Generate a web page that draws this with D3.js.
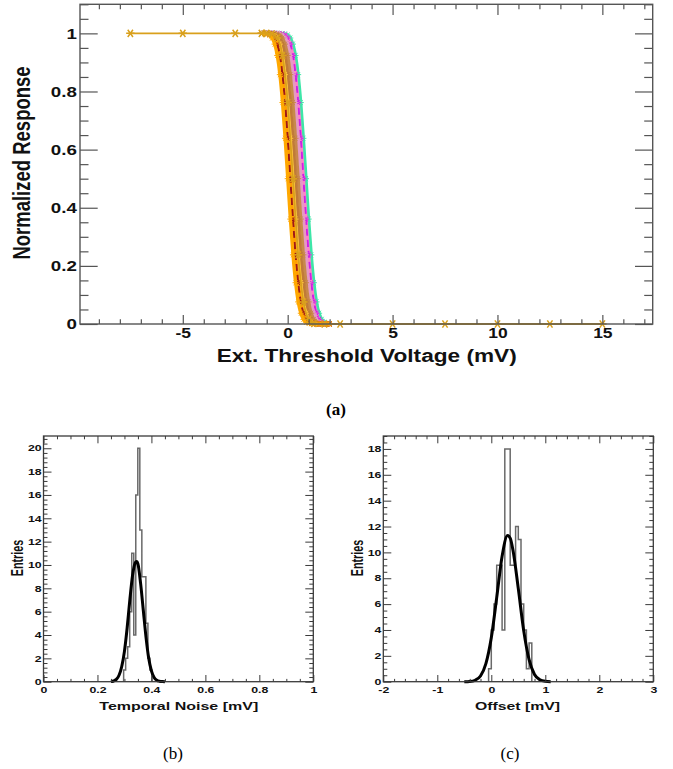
<!DOCTYPE html>
<html><head><meta charset="utf-8">
<script src="https://cdn.jsdelivr.net/npm/d3@7"></script>
<style>body{margin:0;background:#fff}svg{display:block}</style>
</head><body>
<svg id="chart" width="673" height="769"></svg>
<script>
// ---------------- DATA ----------------
// (a) S-curves: fine threshold scan (mV) and normalized responses of several pixels
const scanX = [-1.25,-1.125,-1,-0.875,-0.75,-0.625,-0.5,-0.375,-0.25,-0.125,0,0.125,0.25,0.375,0.5,0.625,0.75,0.875,1,1.125,1.25,1.375,1.5,1.625,1.75,1.875,2];
const respGreen   = [1,1,1,1,1,1,1,1,0.999,0.998,0.994,0.984,0.963,0.924,0.858,0.762,0.639,0.5,0.361,0.238,0.142,0.076,0.037,0.016,0.006,0.002,0.001];
const respPink    = [1,1,1,1,1,1,1,0.999,0.998,0.994,0.984,0.963,0.924,0.858,0.762,0.639,0.5,0.361,0.238,0.142,0.076,0.037,0.016,0.006,0.002,0.001,0];
const respMagenta = [1,1,1,1,1,1,1,0.999,0.998,0.994,0.984,0.963,0.924,0.858,0.762,0.639,0.5,0.361,0.238,0.142,0.076,0.037,0.016,0.006,0.002,0.001,0];
const respLilac   = [1,1,1,1,1,1,0.999,0.998,0.994,0.984,0.963,0.924,0.858,0.762,0.639,0.5,0.361,0.238,0.142,0.076,0.037,0.016,0.006,0.002,0.001,0,0];
const respTan     = [1,1,1,1,1,0.999,0.998,0.994,0.984,0.963,0.924,0.858,0.762,0.639,0.5,0.361,0.238,0.142,0.076,0.037,0.016,0.006,0.002,0.001,0,0,0];
const respBrown   = [1,1,1,1,0.999,0.998,0.994,0.984,0.963,0.924,0.858,0.762,0.639,0.5,0.361,0.238,0.142,0.076,0.037,0.016,0.006,0.002,0.001,0,0,0,0];
const respYellow  = [1,1,1,0.999,0.998,0.994,0.984,0.963,0.924,0.858,0.762,0.639,0.5,0.361,0.238,0.142,0.076,0.037,0.016,0.006,0.002,0.001,0,0,0,0,0];
const respOrange  = [1,1,0.999,0.998,0.994,0.984,0.963,0.924,0.858,0.762,0.639,0.5,0.361,0.238,0.142,0.076,0.037,0.016,0.006,0.002,0.001,0,0,0,0,0,0];
const respRed     = [1,1,0.999,0.998,0.994,0.984,0.963,0.924,0.858,0.762,0.639,0.5,0.361,0.238,0.142,0.076,0.037,0.016,0.006,0.002,0.001,0,0,0,0,0,0];
const respAmber   = [1,0.999,0.998,0.994,0.984,0.963,0.924,0.858,0.762,0.639,0.5,0.361,0.238,0.142,0.076,0.037,0.016,0.006,0.002,0.001,0,0,0,0,0,0,0];
const pixelResponses = [respGreen, respPink, respMagenta, respLilac, respTan, respBrown, respYellow, respOrange, respRed, respAmber];
const pixelColors = ["#3ee6a8","#ff80c8","#d21ee6","#e49ac4","#c8894a","#c07a38","#ffc83a","#ff9d00","#a01818","#ffa800"];
const pixelDashed = [false,false,true,false,false,false,false,false,true,false];
// coarse + fine scan of one pixel (gold)
const goldX = [-7.5,-5,-2.5,-1.25,-1,-0.75,-0.5,-0.25,0,0.25,0.5,0.75,1,1.25,1.75,2.5,5,7.5,10,12.5,15];
const goldY = [1,1,1,1,1,0.998,0.984,0.924,0.762,0.5,0.238,0.076,0.016,0.002,0,0,0,0,0,0,0];
const aXTicks = [-5,0,5,10,15];
const aYTicks = [0,0.2,0.4,0.6,0.8,1];

// (b) Temporal noise histogram + gaussian fit
const noiseBinLow = [0.297,0.3045,0.312,0.3195,0.327,0.3345,0.342,0.3495,0.357,0.3645,0.372,0.3795,0.387,0.3945];
const noiseCounts = [1,2,3,6,11,4,16,20,13,9,9,5,2,1];
const noiseBinWidth = 0.0075;
const noiseFitX = [0.25,0.26,0.27,0.28,0.29,0.30,0.31,0.32,0.33,0.34,0.345,0.35,0.36,0.37,0.38,0.39,0.40,0.41,0.42,0.43,0.44,0.45];
const noiseFitY = [0.01,0.06,0.2,0.55,1.3,2.6,4.6,7.0,9.1,10.2,10.3,10.1,8.4,6.1,3.8,2.0,0.93,0.37,0.13,0.04,0.01,0];
const bXTicks = [0,0.2,0.4,0.6,0.8,1];
const bYTicks = [0,2,4,6,8,10,12,14,16,18,20];

// (c) Offset histogram + gaussian fit
const offsetBinLow = [-0.05,0,0.05,0.1,0.15,0.2,0.25,0.3,0.35,0.4,0.45,0.5,0.55,0.6,0.65,0.7];
const offsetCounts = [1,4,6,9,9,4,18,18,9,9,12,11,6,4,1,3];
const offsetBinWidth = 0.05;
const offsetFitX = [-0.5,-0.4,-0.3,-0.2,-0.1,0,0.1,0.2,0.3,0.35,0.4,0.5,0.6,0.7,0.8,0.9,1.0,1.1];
const offsetFitY = [0,0.02,0.11,0.44,1.4,3.4,6.5,9.7,11.3,11.1,10.2,7.2,3.95,1.7,0.56,0.15,0.03,0];
const cXTicks = [-2,-1,0,1,2,3];
const cYTicks = [0,2,4,6,8,10,12,14,16,18];

// ---------------- DRAWING ----------------
const svg = d3.select("#chart");
const SANS = "'Liberation Sans', Arial, Helvetica, sans-serif";
const SERIF = "'Liberation Serif', 'Times New Roman', serif";

function range(a, b, s) { const r = []; for (let v = a; v <= b + 1e-9; v += s) r.push(+v.toFixed(6)); return r; }
function minorOf(a, b, s, majors) { return range(a, b, s).filter(v => !majors.some(m => Math.abs(m - v) < 1e-6)); }

function drawAxes(g, x, y, o) {
  const [L, R] = x.range(), [B, T] = y.range();
  const col = o.color;
  function mk(axis, tr, vals, len, fmt, pad) {
    const a = axis.tickValues(vals).tickSize(-len).tickSizeOuter(0).tickPadding(pad || 0).tickFormat(fmt || (() => ""));
    const gg = g.append("g").attr("transform", tr).call(a);
    gg.select(".domain").remove();
    gg.selectAll("line").attr("stroke", col).attr("stroke-width", o.tw);
    return gg;
  }
  // minor ticks
  mk(d3.axisBottom(x), `translate(0,${B})`, o.xMinor, o.bLen[1]);
  mk(d3.axisTop(x), `translate(0,${T})`, o.xMinor, o.tLen[1]);
  mk(d3.axisLeft(y), `translate(${L},0)`, o.yMinor, o.lLen[1]);
  mk(d3.axisRight(y), `translate(${R},0)`, o.yMinor, o.rLen[1]);
  // majors
  const bx = mk(d3.axisBottom(x), `translate(0,${B})`, o.xMajor, o.bLen[0], o.fmtX, o.padX);
  mk(d3.axisTop(x), `translate(0,${T})`, o.xMajor, o.tLen[0]);
  const ly = mk(d3.axisLeft(y), `translate(${L},0)`, o.yMajor, o.lLen[0], o.fmtY, o.padY);
  mk(d3.axisRight(y), `translate(${R},0)`, o.yMajor, o.rLen[0]);
  [bx, ly].forEach(gg => gg.selectAll("text")
    .attr("font-family", SANS).attr("font-weight", "bold").attr("fill", "#111")
    .attr("font-size", o.fs).attr("transform", `scale(${o.sx},1)`));
  bx.selectAll("text").attr("font-size", o.fsX || o.fs);
  g.append("rect").attr("x", L).attr("y", T).attr("width", R - L).attr("height", B - T)
    .attr("fill", "none").attr("stroke", col).attr("stroke-width", o.fw);
}

function starPath(r) {
  const dx = r * 0.62, dy = r * 0.85;
  return `M${-r},0L${r},0M${-dx},${-dy}L${dx},${dy}M${-dx},${dy}L${dx},${-dy}`;
}

// ---- Panel (a)
const A = { l: 80, r: 652.7, t: 4.3, b: 324 };
const xA = d3.scaleLinear().domain([-9.9, 17.4]).range([A.l, A.r]);
const yA = d3.scaleLinear().domain([0, 1.1]).range([A.b, A.t]);
const gA = svg.append("g");

const lineA = d3.line().x(d => xA(d[0])).y(d => yA(d[1])).curve(d3.curveMonotoneX);
pixelResponses.forEach((vals, i) => {
  const pts = d3.zip(scanX, vals);
  gA.append("path").attr("d", lineA(pts)).attr("fill", "none")
    .attr("stroke", pixelColors[i]).attr("stroke-width", pixelDashed[i] ? 2 : 3.2)
    .attr("stroke-dasharray", pixelDashed[i] ? "7,4" : null);
  gA.append("g").selectAll("path").data(pts).join("path")
    .attr("transform", d => `translate(${xA(d[0])},${yA(d[1])})`)
    .attr("d", starPath(3)).attr("fill", "none").attr("stroke", pixelColors[i]).attr("stroke-width", 1);
});
const goldPts = d3.zip(goldX, goldY);
gA.append("path").attr("d", lineA(goldPts)).attr("fill", "none").attr("stroke", "#d9a01c").attr("stroke-width", 1.8);
gA.append("g").selectAll("path").data(goldPts).join("path")
  .attr("transform", d => `translate(${xA(d[0])},${yA(d[1])})`)
  .attr("d", starPath(4.2)).attr("fill", "none").attr("stroke", "#d9a01c").attr("stroke-width", 1.5);

drawAxes(gA, xA, yA, {
  color: "#555", tw: 1.2, fw: 1.4,
  xMajor: aXTicks, xMinor: minorOf(-9, 17, 1, aXTicks),
  yMajor: aYTicks, yMinor: minorOf(0, 1.1, 0.05, aYTicks),
  bLen: [9, 4.7], tLen: [10.7, 5], lLen: [17.7, 8.5], rLen: [17.7, 8.5],
  fmtX: d => d3.format("d")(d).replace("−", "-"), fmtY: d => (d === 0 || d === 1) ? String(d) : String(d),
  padX: 4.5, padY: 2.5, fs: 15, fsX: 14, sx: 1.25
});
gA.append("text").attr("x", 366.7).attr("y", 361.7).attr("text-anchor", "middle")
  .attr("font-family", SANS).attr("font-weight", "bold").attr("font-size", 18.7).attr("fill", "#111")
  .attr("textLength", 300).attr("lengthAdjust", "spacingAndGlyphs")
  .text("Ext. Threshold Voltage (mV)");
gA.append("text").attr("transform", "translate(22,163) scale(1.28,1) rotate(-90)")
  .attr("text-anchor", "middle").attr("dy", "0.35em")
  .attr("font-family", SANS).attr("font-weight", "bold").attr("font-size", 18.5).attr("fill", "#111")
  .text("Normalized Response");
svg.append("text").attr("x", 336).attr("y", 415).attr("text-anchor", "middle")
  .attr("font-family", SERIF).attr("font-weight", "bold").attr("font-size", 17).attr("fill", "#000").text("(a)");

// ---- Histogram panels
function histPanel(box, xDom, yDom, binLow, counts, w, fitX, fitY, xTicks, yTicks, xMinStep, yMinStep, title, titleW, titleX) {
  const x = d3.scaleLinear().domain(xDom).range([box.l, box.r]);
  const y = d3.scaleLinear().domain(yDom).range([box.b, box.t]);
  const g = svg.append("g");
  const pts = [[binLow[0], 0]].concat(d3.zip(binLow, counts)).concat([[binLow[binLow.length - 1] + w, 0]]);
  g.append("path").attr("d", d3.line().x(d => x(d[0])).y(d => y(d[1])).curve(d3.curveStepAfter)(pts))
    .attr("fill", "none").attr("stroke", "#6a6a6a").attr("stroke-width", 1.5);
  g.append("path").attr("d", d3.line().x(d => x(d[0])).y(d => y(d[1])).curve(d3.curveMonotoneX)(d3.zip(fitX, fitY)))
    .attr("fill", "none").attr("stroke", "#000").attr("stroke-width", 3);
  drawAxes(g, x, y, {
    color: "#3a3a3a", tw: 1, fw: 1.3,
    xMajor: xTicks, xMinor: minorOf(xDom[0], xDom[1], xMinStep, xTicks),
    yMajor: yTicks, yMinor: minorOf(yDom[0], Math.floor(yDom[1]), yMinStep, yTicks),
    bLen: [6.7, 2.8], tLen: [7.3, 3.3], lLen: [8, 4], rLen: [8, 4],
    fmtX: d => String(d), fmtY: d => String(d),
    padX: 5.3, padY: 1.3, fs: 8.5, sx: 1.45
  });
  g.append("text").attr("x", titleX).attr("y", 710).attr("text-anchor", "middle")
    .attr("font-family", SANS).attr("font-weight", "bold").attr("font-size", 11.6).attr("fill", "#111")
    .attr("textLength", titleW).attr("lengthAdjust", "spacingAndGlyphs").text(title);
  g.append("text").attr("transform", `translate(${box.l - 25.5},558) scale(1.45,1) rotate(-90)`)
    .attr("text-anchor", "middle").attr("dy", "0.35em")
    .attr("font-family", SANS).attr("font-weight", "bold").attr("font-size", 10.8).attr("fill", "#111")
    .text("Entries");
}
histPanel({ l: 43.5, r: 313.3, t: 436, b: 681.7 }, [0, 1], [0, 21.05], noiseBinLow, noiseCounts, noiseBinWidth,
  noiseFitX, noiseFitY, bXTicks, bYTicks, 0.05, 0.4, "Temporal Noise [mV]", 159, 178.8);
histPanel({ l: 383.3, r: 653.3, t: 436, b: 681.7 }, [-2, 3], [0, 19.0], offsetBinLow, offsetCounts, offsetBinWidth,
  offsetFitX, offsetFitY, cXTicks, cYTicks, 0.2, 0.5, "Offset [mV]", 85, 517.5);

svg.append("text").attr("x", 173).attr("y", 759).attr("text-anchor", "middle")
  .attr("font-family", SERIF).attr("font-size", 17).attr("fill", "#000").text("(b)");
svg.append("text").attr("x", 510).attr("y", 759).attr("text-anchor", "middle")
  .attr("font-family", SERIF).attr("font-size", 17).attr("fill", "#000").text("(c)");
</script>
</body></html>
